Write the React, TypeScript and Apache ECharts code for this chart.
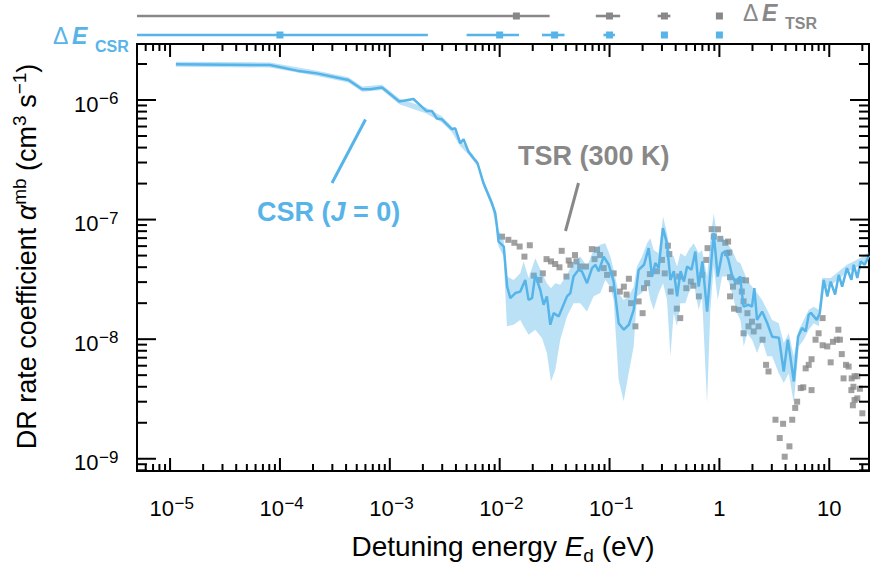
import React, { useEffect, useRef } from 'react';
import * as echarts from 'echarts';

const FAMILY = '"Liberation Sans", Arial, Helvetica, sans-serif';
const BLUE = '#56B4E9';
const GRAY = '#888888';
const BAND_FILL = 'rgba(86, 180, 233, 0.4)';

const X_MIN = 5e-6;
const X_MAX = 23;
const Y_MIN = 7.9e-10;
const Y_MAX = 2.94e-6;

const X_LABEL_VALUES = [1e-5, 1e-4, 1e-3, 1e-2, 1e-1, 1, 10];
const X_LABEL_BASE = ['10', '10', '10', '10', '10', '1', '10'];
const X_LABEL_EXP = ['−5', '−4', '−3', '−2', '−1', '', ''];
const Y_LABEL_VALUES = [1e-9, 1e-8, 1e-7, 1e-6];
const Y_LABEL_BASE = ['10', '10', '10', '10'];
const Y_LABEL_EXP = ['−9', '−8', '−7', '−6'];

// CSR (J = 0) rate coefficient
const CSR_E = [1.13e-5, 8.1e-5, 1.43e-4, 2.17e-4, 4.2e-4, 5.6e-4, 6.6e-4, 8.5e-4, 1.22e-3, 1.64e-3, 2.15e-3, 2.42e-3, 2.68e-3, 2.98e-3, 3.67e-3, 3.94e-3, 4.38e-3, 4.69e-3, 5.2e-3, 5.78e-3, 6.29e-3, 7.13e-3, 8.5e-3, 9.12e-3, 9.45e-3, 9.77e-3, 1.09e-2, 1.17e-2, 1.25e-2, 1.39e-2, 1.54e-2, 1.71e-2, 1.83e-2, 1.97e-2, 2.11e-2, 2.34e-2, 2.51e-2, 2.69e-2, 2.89e-2, 3.1e-2, 3.44e-2, 4.1e-2, 4.4e-2, 4.7e-2, 5.23e-2, 5.6e-2, 6.24e-2, 6.93e-2, 7.43e-2, 7.96e-2, 8.85e-2, 9.84e-2, 0.109, 0.121, 0.135, 0.15, 0.166, 0.184, 0.206, 0.227, 0.244, 0.261, 0.28, 0.306, 0.333, 0.358, 0.385, 0.412, 0.443, 0.476, 0.508, 0.557, 0.604, 0.648, 0.7, 0.773, 0.887, 0.966, 1.06, 1.13, 1.21, 1.3, 1.39, 1.55, 1.59, 1.66, 1.84, 1.98, 2.08, 2.2, 2.45, 2.73, 3.02, 3.48, 3.85, 4.2, 4.76, 5.2, 5.66, 6.1, 6.5, 6.8, 7.7, 8.2, 8.9, 9.6, 10.3, 11.3, 12.2, 13.1, 14.5, 15.9, 16.7, 18, 19.3, 21, 23];
const CSR_RATE = [1.99e-6, 1.96e-6, 1.76e-6, 1.67e-6, 1.47e-6, 1.23e-6, 1.23e-6, 1.27e-6, 9.7e-7, 1.02e-6, 8.1e-7, 8.1e-7, 7.0e-7, 6.9e-7, 5.7e-7, 5.8e-7, 4.35e-7, 4.7e-7, 3.7e-7, 3.26e-7, 2.96e-7, 2.01e-7, 1.37e-7, 1.13e-7, 8.75e-8, 6.55e-8, 5.95e-8, 2.75e-8, 2.2e-8, 2.43e-8, 2.5e-8, 3.13e-8, 2.13e-8, 2.2e-8, 3.45e-8, 2.59e-8, 1.94e-8, 2.28e-8, 1.32e-8, 1.65e-8, 1.55e-8, 2.28e-8, 2.43e-8, 3.34e-8, 3.8e-8, 3.7e-8, 2.94e-8, 3.93e-8, 4.19e-8, 3.7e-8, 4.91e-8, 4.19e-8, 3.03e-8, 1.36e-8, 1.2e-8, 1.32e-8, 1.76e-8, 3.8e-8, 4.19e-8, 5.77e-8, 3.34e-8, 4.33e-8, 3.93e-8, 8.48e-8, 6.35e-8, 3.13e-8, 3.7e-8, 2.28e-8, 3.7e-8, 3.03e-8, 4.05e-8, 3.8e-8, 5.4e-8, 2.75e-8, 4.47e-8, 1.7e-8, 7.7e-8, 3.34e-8, 5.24e-8, 5.4e-8, 4.6e-8, 3.45e-8, 3.03e-8, 3.34e-8, 2.59e-8, 1.87e-8, 1.94e-8, 1.87e-8, 2.67e-8, 1.45e-8, 1.7e-8, 1.36e-8, 1.05e-8, 1.03e-8, 5.37e-9, 9.9e-9, 4.43e-9, 1.05e-8, 1.24e-8, 1.16e-8, 1.6e-8, 1.66e-8, 1.45e-8, 1.65e-8, 3.13e-8, 2.28e-8, 3.03e-8, 2.36e-8, 3.45e-8, 2.75e-8, 3.93e-8, 3.13e-8, 4.19e-8, 3.25e-8, 4.47e-8, 4.19e-8, 5.0e-8];

// CSR uncertainty band
const BAND_E = [1.13e-5, 8.1e-5, 2.17e-4, 4.2e-4, 5.6e-4, 8.5e-4, 1.22e-3, 2.15e-3, 2.98e-3, 3.67e-3, 4.38e-3, 5.2e-3, 6.29e-3, 7.13e-3, 8.5e-3, 9.45e-3, 9.78e-3, 1.086e-2, 1.164e-2, 1.339e-2, 1.54e-2, 1.652e-2, 1.834e-2, 2.11e-2, 2.43e-2, 2.69e-2, 2.93e-2, 3.21e-2, 3.56e-2, 4.1e-2, 4.71e-2, 5.42e-2, 6.23e-2, 7.17e-2, 8.24e-2, 9.16e-2, 0.1017, 0.109, 0.121, 0.1345, 0.1493, 0.1659, 0.178, 0.1975, 0.2194, 0.2352, 0.2522, 0.28, 0.307, 0.3336, 0.358, 0.3837, 0.4115, 0.4413, 0.49, 0.5257, 0.5836, 0.648, 0.695, 0.772, 0.828, 0.888, 0.966, 1.057, 1.174, 1.304, 1.448, 1.553, 1.666, 1.786, 1.984, 2.203, 2.446, 2.717, 3.017, 3.471, 3.854, 4.28, 4.753, 5.28, 5.86, 6.51, 7.23, 8.03, 8.61, 10.3, 14.5, 19.3, 23];
const BAND_LO = [1.9e-6, 1.87e-6, 1.59e-6, 1.4e-6, 1.17e-6, 1.21e-6, 9.2e-7, 7.7e-7, 6.5e-7, 5.4e-7, 4.1e-7, 3.5e-7, 2.8e-7, 1.88e-7, 1.27e-7, 8.0e-8, 5.95e-8, 4.91e-8, 1.28e-8, 1.32e-8, 1.45e-8, 1.28e-8, 1.09e-8, 1.2e-8, 1.02e-8, 7.66e-9, 4.43e-9, 5.55e-9, 9.9e-9, 1.55e-8, 2.0e-8, 2.0e-8, 1.7e-8, 2.28e-8, 2.43e-8, 3.13e-8, 2.75e-8, 2.13e-8, 4.58e-9, 3.02e-9, 5.2e-9, 8.7e-9, 2.28e-8, 2.43e-8, 2.94e-8, 2.13e-8, 1.76e-8, 2.43e-8, 2.94e-8, 2.13e-8, 7.2e-9, 1.65e-8, 1.28e-8, 2.0e-8, 2.0e-8, 2.43e-8, 2.94e-8, 1.76e-8, 2.28e-8, 2.92e-9, 1.76e-8, 4.05e-8, 2.13e-8, 3.34e-8, 3.34e-8, 2.43e-8, 1.65e-8, 1.45e-8, 8.7e-9, 1.12e-8, 9.9e-9, 7.66e-9, 9.9e-9, 7.2e-9, 7.2e-9, 5.2e-9, 4.3e-9, 5.2e-9, 2.92e-9, 8.7e-9, 9.9e-9, 1.2e-8, 1.36e-8, 1.28e-8, 2.67e-8, 2.8e-8, 3.65e-8, 4.15e-8, 4.65e-8];
const BAND_HI = [2.09e-6, 2.06e-6, 1.76e-6, 1.55e-6, 1.3e-6, 1.34e-6, 1.03e-6, 8.6e-7, 7.3e-7, 6.0e-7, 4.6e-7, 3.9e-7, 3.12e-7, 2.14e-7, 1.48e-7, 9.6e-8, 8.2e-8, 6.77e-8, 3.34e-8, 3.13e-8, 3.56e-8, 4.46e-8, 3.24e-8, 4.76e-8, 3.56e-8, 2.94e-8, 2.67e-8, 2.94e-8, 2.85e-8, 3.45e-8, 4.46e-8, 4.91e-8, 4.05e-8, 5.58e-8, 6.15e-8, 6.35e-8, 4.91e-8, 3.8e-8, 2.43e-8, 2.13e-8, 2.28e-8, 2.75e-8, 4.05e-8, 4.91e-8, 6.35e-8, 6.99e-8, 5.58e-8, 5.24e-8, 1.06e-7, 7.69e-8, 5.24e-8, 4.91e-8, 4.05e-8, 5.24e-8, 4.91e-8, 5.58e-8, 6.35e-8, 5.24e-8, 5.58e-8, 3.34e-8, 6.77e-8, 1.13e-7, 6.77e-8, 7.2e-8, 6.35e-8, 5.58e-8, 4.46e-8, 4.32e-8, 3.68e-8, 3.13e-8, 2.75e-8, 2.43e-8, 2.13e-8, 1.76e-8, 1.45e-8, 1.36e-8, 9.27e-9, 1.12e-8, 7.2e-9, 1.2e-8, 1.45e-8, 1.76e-8, 1.87e-8, 1.76e-8, 3.24e-8, 3.25e-8, 4.2e-8, 4.8e-8, 5.35e-8];

// TSR (300 K) measurement
const TSR_E = [1.05e-2, 1.2e-2, 1.36e-2, 1.52e-2, 1.68e-2, 1.88e-2, 2.04e-2, 2.3e-2, 2.47e-2, 2.67e-2, 2.93e-2, 3.2e-2, 3.5e-2, 3.67e-2, 4.05e-2, 4.25e-2, 4.4e-2, 4.85e-2, 5.0e-2, 5.4e-2, 6.1e-2, 6.9e-2, 7.3e-2, 7.7e-2, 8.2e-2, 8.85e-2, 9.5e-2, 0.105, 0.109, 0.124, 0.135, 0.143, 0.15, 0.157, 0.172, 0.184, 0.2, 0.206, 0.22, 0.233, 0.27, 0.3, 0.318, 0.34, 0.35, 0.36, 0.41, 0.43, 0.44, 0.5, 0.55, 0.58, 0.65, 0.7, 0.76, 0.78, 0.85, 0.89, 0.97, 1.02, 1.13, 1.2, 1.17, 1.23, 1.25, 1.33, 1.44, 1.25, 1.36, 1.5, 1.6, 1.75, 1.6, 1.66, 1.8, 1.66, 1.84, 1.98, 2.05, 2.27, 2.47, 2.66, 2.8, 3.24, 3.54, 3.8, 3.93, 4.34, 4.6, 4.9, 5.1, 5.5, 5.8, 6.1, 6.5, 6.9, 6.9, 7.5, 8.0, 8.7, 8.7, 9.6, 10.3, 10.8, 11.7, 12.1, 12.5, 13.0, 14.2, 13.5, 15, 16, 17, 18, 15.9, 16.6, 19, 17, 18, 16.4, 20];
const TSR_RATE = [7.2e-8, 6.77e-8, 6.4e-8, 5.95e-8, 4.9e-8, 6.1e-8, 3.4e-8, 3.13e-8, 3.55e-8, 4.67e-8, 4.47e-8, 4.25e-8, 3.99e-8, 5.48e-8, 3.34e-8, 4.55e-8, 4.19e-8, 5.05e-8, 4.47e-8, 4.05e-8, 4.05e-8, 5.66e-8, 4.67e-8, 5.6e-8, 5.05e-8, 3.93e-8, 3.45e-8, 2.62e-8, 3.55e-8, 2.5e-8, 2.75e-8, 2.36e-8, 3.2e-8, 2.0e-8, 1.28e-8, 2.07e-8, 1.65e-8, 2.67e-8, 2.94e-8, 3.5e-8, 3.7e-8, 4.6e-8, 3.55e-8, 6.05e-8, 5.15e-8, 2.5e-8, 1.8e-8, 3.34e-8, 1.5e-8, 2.67e-8, 3.03e-8, 2.8e-8, 2.28e-8, 3.45e-8, 4.6e-8, 5.77e-8, 8.32e-8, 7.2e-8, 8.3e-8, 6.9e-8, 6.4e-8, 6.55e-8, 5.24e-8, 5.3e-8, 3.3e-8, 2.75e-8, 3.03e-8, 2.28e-8, 1.8e-8, 1.76e-8, 3.13e-8, 3.1e-8, 2.5e-8, 2.07e-8, 1.65e-8, 1.12e-8, 1.28e-8, 1.4e-8, 1.16e-8, 1.28e-8, 9.9e-9, 6.1e-9, 5.37e-9, 2.12e-9, 1.49e-9, 1.96e-9, 1.04e-9, 1.27e-9, 2.12e-9, 2.66e-9, 3.0e-9, 3.9e-9, 3.96e-9, 5.7e-9, 6.1e-9, 6.8e-9, 3.75e-9, 9.9e-9, 1.12e-8, 1.5e-8, 8.9e-9, 8.7e-9, 6.4e-9, 9.5e-9, 9.9e-9, 1.2e-8, 9.9e-9, 7.5e-9, 6.1e-9, 4.7e-9, 5.9e-9, 4.7e-9, 4.9e-9, 4.9e-9, 3.75e-9, 4.0e-9, 3.85e-9, 3.1e-9, 3.2e-9, 2.8e-9, 2.4e-9];

// Energy resolution (centre, half-width) for both rings
const RES_TSR_E = [0.0142, 0.1, 0.316, 1];
const RES_TSR_DE = [0.0143, 0.025, 0.042, 0];
const RES_CSR_E = [1e-4, 1e-2, 0.0316, 0.1, 0.316, 1];
const RES_CSR_DE = [2.12e-3, 5e-3, 7.3e-3, 1.2e-2, 0, 0];

const mkFont = (size: number, weight = 'normal', style = 'normal') => `${style} ${weight} ${size}px ${FAMILY}`;

let measureCtx: CanvasRenderingContext2D | null = null;
function textWidth(font: string, t: string) {
  if (!measureCtx) measureCtx = document.createElement('canvas').getContext('2d');
  measureCtx!.font = font;
  return measureCtx!.measureText(t).width;
}

type Run = { t: string; size: number; weight?: string; style?: string; dy?: number };
function layoutRuns(runs: Run[], fill: string) {
  let x = 0;
  const children: any[] = [];
  for (const r of runs) {
    const font = mkFont(r.size, r.weight, r.style);
    children.push({
      type: 'text', x, y: (r.dy || 0) - 0.35 * r.size,
      style: { text: r.t, font, fill, textAlign: 'left', textVerticalAlign: 'middle' },
    });
    x += textWidth(font, r.t);
  }
  return { children, width: x };
}

const FONT_TICK = mkFont(22);
const FONT_EXP = mkFont(17);

function tText(text: string, x: number, y: number, align: string, font: string) {
  return { type: 'text', x, y, style: { text, font, fill: '#000', textAlign: align, textVerticalAlign: 'middle' } };
}

function renderTick(params: any, api: any) {
  const cs = params.coordSys;
  const L = cs.x, T = cs.y, R = cs.x + cs.width, B = cs.y + cs.height;
  const ax = api.value(2);
  const major = api.value(3) === 1;
  const li = api.value(4);
  const st = { stroke: '#000', lineWidth: 2 };
  const ch: any[] = [];
  if (ax === 0) {
    const px = api.coord([api.value(0), Y_MIN])[0];
    const len = major ? 13 : 7;
    ch.push({ type: 'line', shape: { x1: px, y1: B, x2: px, y2: B - len }, style: st });
    ch.push({ type: 'line', shape: { x1: px, y1: T, x2: px, y2: T + len }, style: st });
    if (li >= 0) {
      const exp = X_LABEL_EXP[li];
      if (exp) {
        ch.push(tText(X_LABEL_BASE[li], px + 4, B + 37.3, 'right', FONT_TICK));
        ch.push(tText(exp, px + 4.5, B + 32, 'left', FONT_EXP));
      } else {
        ch.push(tText(X_LABEL_BASE[li], px, B + 37.3, 'center', FONT_TICK));
      }
    }
  } else {
    const py = api.coord([X_MIN, api.value(1)])[1];
    const len = major ? 19 : 10;
    ch.push({ type: 'line', shape: { x1: L, y1: py, x2: L + len, y2: py }, style: st });
    ch.push({ type: 'line', shape: { x1: R, y1: py, x2: R - len, y2: py }, style: st });
    if (li >= 0) {
      ch.push(tText(Y_LABEL_BASE[li], L - 38.5, py + 4, 'right', FONT_TICK));
      ch.push(tText(Y_LABEL_EXP[li], L - 38, py - 1.3, 'left', FONT_EXP));
    }
  }
  return { type: 'group', children: ch };
}

function renderRes(params: any, api: any) {
  const cs = params.coordSys;
  const E = api.value(0), dE = api.value(2), row = api.value(3);
  const color = row === 0 ? GRAY : BLUE;
  const y = cs.y - (row === 0 ? 28 : 9);
  const cx = api.coord([E, Y_MAX])[0];
  const x1 = api.coord([Math.max(E - dE, X_MIN), Y_MAX])[0];
  const x2 = api.coord([Math.min(E + dE, X_MAX), Y_MAX])[0];
  const ch: any[] = [];
  if (dE > 0) ch.push({ type: 'line', shape: { x1, y1: y, x2, y2: y }, style: { stroke: color, lineWidth: 2.6 } });
  ch.push({ type: 'rect', shape: { x: cx - 3.5, y: y - 3.5, width: 7, height: 7 }, style: { fill: color } });
  return { type: 'group', children: ch };
}

function renderBand(params: any, api: any) {
  const pts: number[][] = [];
  for (let i = 0; i < BAND_E.length; i++) pts.push(api.coord([BAND_E[i], BAND_HI[i]]));
  for (let i = BAND_E.length - 1; i >= 0; i--) pts.push(api.coord([BAND_E[i], BAND_LO[i]]));
  return { type: 'polygon', shape: { points: pts }, style: { fill: BAND_FILL } };
}

function buildOption() {
  const tickItems: number[][] = [];
  for (let n = -6; n <= 1; n++) {
    for (let k = 1; k <= 9; k++) {
      const v = k * Math.pow(10, n);
      if (v < X_MIN * 0.999 || v > X_MAX * 1.001) continue;
      const li = k === 1 ? X_LABEL_VALUES.findIndex((L) => Math.abs(L - v) / v < 1e-6) : -1;
      tickItems.push([v, Y_MIN, 0, k === 1 ? 1 : 0, li]);
    }
  }
  for (let n = -10; n <= -6; n++) {
    for (let k = 1; k <= 9; k++) {
      const v = k * Math.pow(10, n);
      if (v < Y_MIN * 0.999 || v > Y_MAX * 1.001) continue;
      const li = k === 1 ? Y_LABEL_VALUES.findIndex((L) => Math.abs(L - v) / v < 1e-6) : -1;
      tickItems.push([X_MIN, v, 1, k === 1 ? 1 : 0, li]);
    }
  }

  const resItems: number[][] = [];
  RES_TSR_E.forEach((e, i) => resItems.push([e, Y_MAX, RES_TSR_DE[i], 0]));
  RES_CSR_E.forEach((e, i) => resItems.push([e, Y_MAX, RES_CSR_DE[i], 1]));

  const SUP = 19;
  const yTitle = layoutRuns([
    { t: 'DR rate coefficient ', size: 27 },
    { t: 'α', size: 27, style: 'italic' },
    { t: 'mb', size: SUP, dy: -11 },
    { t: ' (cm', size: 27 },
    { t: '3', size: SUP, dy: -11 },
    { t: ' s', size: 27 },
    { t: '−1', size: SUP, dy: -11 },
    { t: ')', size: 27 },
  ], '#000');
  const xTitle = layoutRuns([
    { t: 'Detuning energy ', size: 28 },
    { t: 'E', size: 28, style: 'italic' },
    { t: 'd', size: 19, dy: 6 },
    { t: ' (eV)', size: 28 },
  ], '#000');
  const csrNote = layoutRuns([
    { t: 'CSR (', size: 27, weight: 'bold' },
    { t: 'J', size: 27, weight: 'bold', style: 'italic' },
    { t: ' = 0)', size: 27, weight: 'bold' },
  ], BLUE);
  const tsrNote = layoutRuns([{ t: 'TSR (300 K)', size: 27, weight: 'bold' }], GRAY);

  const deLabel = (color: string, sub: string) => [
    { type: 'text', x: 0, y: -0.35 * 23, style: { text: 'Δ', font: mkFont(23), fill: color, textAlign: 'left', textVerticalAlign: 'middle' } },
    { type: 'text', x: 19, y: -0.35 * 23, style: { text: 'E', font: mkFont(23, 'bold', 'italic'), fill: color, textAlign: 'left', textVerticalAlign: 'middle' } },
    { type: 'text', x: 42, y: 7.3 - 0.35 * 16, style: { text: sub, font: mkFont(16, 'bold'), fill: color, textAlign: 'left', textVerticalAlign: 'middle' } },
  ];

  return {
    animation: false,
    backgroundColor: '#ffffff',
    grid: { left: 137, right: 1, top: 44, bottom: 101, show: true, borderColor: '#000', borderWidth: 2, backgroundColor: 'transparent' },
    xAxis: {
      type: 'log', logBase: 10, min: X_MIN, max: X_MAX,
      axisLine: { show: false }, axisTick: { show: false }, axisLabel: { show: false }, splitLine: { show: false },
    },
    yAxis: {
      type: 'log', logBase: 10, min: Y_MIN, max: Y_MAX,
      axisLine: { show: false }, axisTick: { show: false }, axisLabel: { show: false }, splitLine: { show: false },
    },
    series: [
      {
        type: 'scatter', name: 'TSR (300 K)', z: 2, symbol: 'rect', symbolSize: 6,
        itemStyle: { color: GRAY }, data: TSR_E.map((e, i) => [e, TSR_RATE[i]]), silent: true,
      },
      {
        type: 'custom', name: 'band', z: 3, clip: true, renderItem: renderBand,
        data: [[BAND_E[0], BAND_HI[0]]], silent: true,
      },
      {
        type: 'line', name: 'CSR (J = 0)', z: 4, showSymbol: false, symbol: 'none',
        lineStyle: { color: BLUE, width: 2.5 }, itemStyle: { color: BLUE },
        data: CSR_E.map((e, i) => [e, CSR_RATE[i]]), silent: true,
      },
      {
        type: 'custom', name: 'ticks', z: 6, clip: false, renderItem: renderTick,
        encode: { x: 0, y: 1 }, data: tickItems, silent: true,
      },
      {
        type: 'custom', name: 'resolution', z: 6, clip: false, renderItem: renderRes,
        encode: { x: 0, y: 1 }, data: resItems, silent: true,
      },
    ],
    graphic: [
      { type: 'group', x: 36.7, y: 256.5 + yTitle.width / 2, rotation: Math.PI / 2, children: yTitle.children },
      { type: 'group', x: 503 - xTitle.width / 2, y: 556, children: xTitle.children },
      { type: 'group', x: 257, y: 221.7, children: csrNote.children },
      { type: 'group', x: 518, y: 165, children: tsrNote.children },
      { type: 'line', shape: { x1: 332, y1: 183, x2: 365.5, y2: 119.5 }, style: { stroke: BLUE, lineWidth: 3 } },
      { type: 'line', shape: { x1: 565.5, y1: 231, x2: 578.5, y2: 183 }, style: { stroke: GRAY, lineWidth: 3 } },
      { type: 'group', x: 743, y: 21.5, children: deLabel(GRAY, 'TSR') },
      { type: 'group', x: 53, y: 44.4, children: deLabel(BLUE, 'CSR') },
    ],
  };
}

export default function App() {
  const ref = useRef<HTMLDivElement>(null);
  useEffect(() => {
    document.body.style.margin = '0';
    const chart = echarts.init(ref.current!, null, { renderer: 'svg' });
    chart.setOption(buildOption() as any);
    return () => chart.dispose();
  }, []);
  return <div ref={ref} style={{ width: 870, height: 572, position: 'fixed', left: 0, top: 0, background: '#fff' }} />;
}
